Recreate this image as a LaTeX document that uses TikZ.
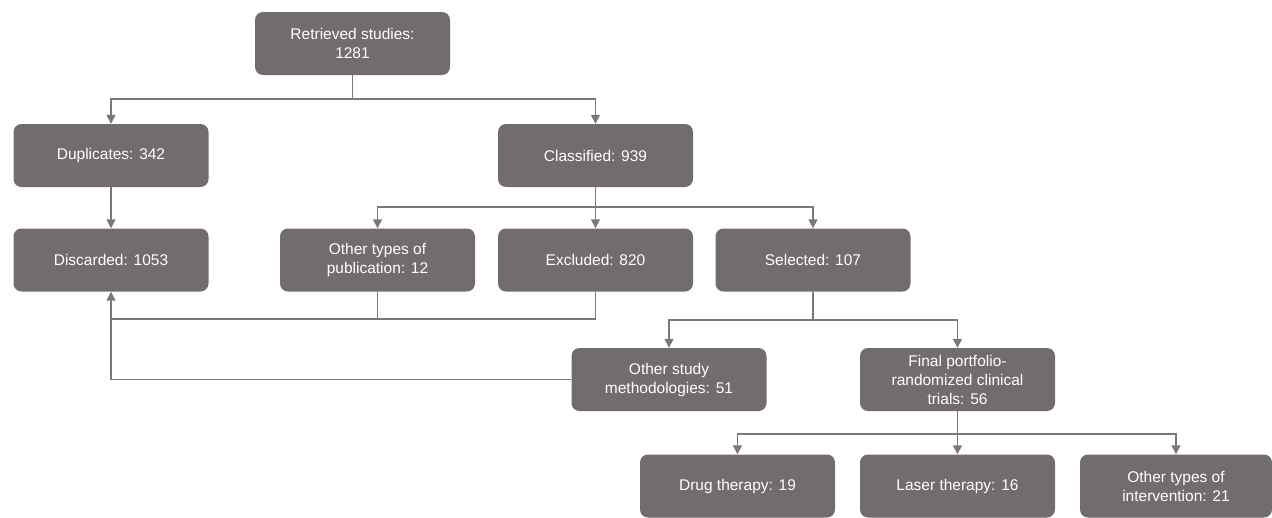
\documentclass[tikz,border=0pt]{standalone}
\usepackage{fontspec}
\setmainfont{Liberation Sans}
\usetikzlibrary{arrows.meta}
\definecolor{boxfill}{RGB}{114,109,108}
\definecolor{linecol}{RGB}{122,120,120}
\tikzset{
  box/.style={draw=none, fill=boxfill, rounded corners=8pt, minimum width=195pt, minimum height=63pt,
    text=white, align=center, inner sep=2pt, font=\fontsize{15.5}{19}\selectfont},
  conn/.style={draw=linecol, line width=1.5pt},
  arr/.style={conn, -{Triangle[width=9pt,length=9pt]}}
}
\begin{document}
\begin{tikzpicture}[x=1pt,y=1pt]
\useasboundingbox (0,0) rectangle (1272,-517);
\node[box] (ret) at (352.5,-43.5) {Retrieved studies:\\1281};
\node[box] (dup) at (111,-155.5) {Duplicates: 342};
\node[box] (cls) at (595.5,-155.5) {Classified: 939};
\node[box] (dis) at (111,-260) {Discarded: 1053};
\node[box] (otp) at (377.5,-260) {Other types of\\publication: 12};
\node[box] (exc) at (595.5,-260) {Excluded: 820};
\node[box] (sel) at (813,-260) {Selected: 107};
\node[box] (osm) at (669,-379.5) {Other study\\methodologies: 51};
\node[box] (fin) at (957.5,-379.5) {Final portfolio-\\randomized clinical\\trials: 56};
\node[box] (drug) at (737.5,-486) {Drug therapy: 19};
\node[box] (laser) at (957.5,-486) {Laser therapy: 16};
\node[box, minimum width=192pt] (oti) at (1176,-486) {Other types of\\intervention: 21};
% junctions
\coordinate (j1) at (352.5,-99);
\coordinate (j2) at (595.5,-207);
\coordinate (j3) at (111,-319);
\coordinate (j4) at (813,-320);
\coordinate (j5) at (957.5,-434);
% connectors
\draw[conn] (ret.south) -- (j1);
\draw[arr] (j1) -| (dup.north);
\draw[arr] (j1) -| (cls.north);
\draw[arr] (dup.south) -- (dis.north);
\draw[arr] (cls.south) -- (exc.north);
\draw[arr] (j2) -| (otp.north);
\draw[arr] (j2) -| (sel.north);
\draw[conn] (otp.south) -- (otp.south |- j3);
\draw[conn] (exc.south) |- (j3);
\draw[arr] (osm.west) -| (dis.south);
\draw[conn] (sel.south) -- (j4);
\draw[arr] (j4) -| (osm.north);
\draw[arr] (j4) -| (fin.north);
\draw[conn] (fin.south) -- (j5);
\draw[arr] (j5) -| (drug.north);
\draw[arr] (j5) -- (laser.north);
\draw[arr] (j5) -| (oti.north);
\end{tikzpicture}
\end{document}
